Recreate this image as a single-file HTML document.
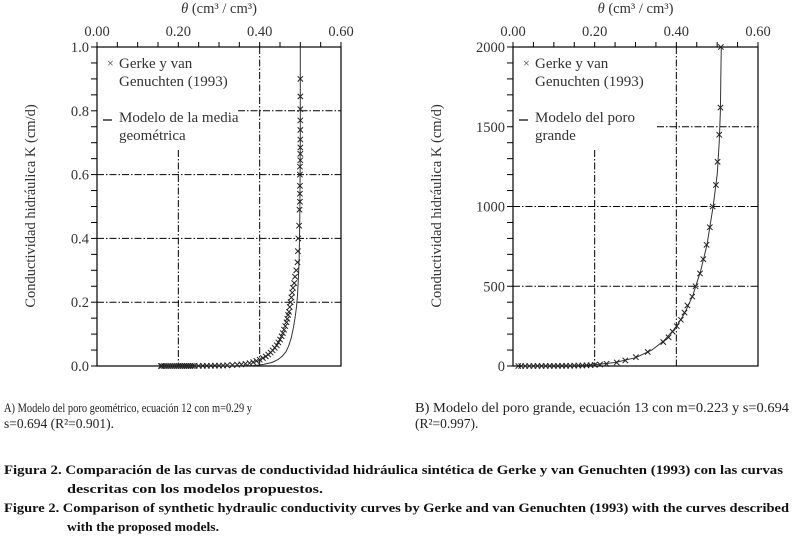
<!DOCTYPE html>
<html><head><meta charset="utf-8"><style>
body{margin:0;background:#fff}
svg{display:block;font-family:"Liberation Serif",serif}
</style></head><body>
<svg id="fig" width="793" height="539" viewBox="0 0 793 539" xmlns="http://www.w3.org/2000/svg">
<g id="chartA"></g>
<g id="chartB"></g>
<g font-size="13.5" fill="#222">
<text x="4" y="412" font-size="12.5" textLength="248" lengthAdjust="spacingAndGlyphs">A) Modelo del poro geométrico, ecuación 12 con m=0.29 y</text>
<text x="4" y="428">s=0.694 (R²=0.901).</text>
<text x="415" y="412" textLength="374" lengthAdjust="spacingAndGlyphs">B) Modelo del poro grande, ecuación 13 con m=0.223 y s=0.694</text>
<text x="415" y="428">(R²=0.997).</text>
</g>
<g font-size="13" font-weight="bold" fill="#111">
<text x="4" y="474" textLength="779" lengthAdjust="spacingAndGlyphs">Figura 2.  Comparación de las curvas de conductividad hidráulica sintética de Gerke y van Genuchten (1993) con las curvas</text>
<text x="67" y="493" textLength="256" lengthAdjust="spacingAndGlyphs">descritas con los modelos propuestos.</text>
<text x="4" y="512" textLength="785" lengthAdjust="spacingAndGlyphs">Figure 2.  Comparison of synthetic hydraulic conductivity curves by Gerke and van Genuchten (1993) with the curves described</text>
<text x="67" y="531" textLength="152" lengthAdjust="spacingAndGlyphs">with the proposed models.</text>
</g>
</svg>
<script>
// ---- shared tick labels ----
const xTicks = ["0.00","0.20","0.40","0.60"];
const yTicksA = ["0.0","0.2","0.4","0.6","0.8","1.0"];
const yTicksB = ["0","500","1000","1500","2000"];
// ---- Chart A data ----
const thetaA = [0.5,0.5,0.5,0.5,0.5,0.5,0.5,0.5,0.5,0.499,0.499,0.499,0.499,0.499,0.498,0.497,0.495,0.494,0.493,0.49,0.487,0.485,0.482,0.48,0.478,0.476,0.474,0.472,0.47,0.468,0.466,0.463,0.46,0.457,0.454,0.45,0.446,0.442,0.437,0.432,0.427,0.421,0.415,0.408,0.40,0.392,0.384,0.375,0.365,0.355,0.345,0.333,0.32,0.31,0.30,0.29,0.28,0.27,0.26,0.25,0.24,0.235,0.23,0.225,0.22,0.215,0.21,0.205,0.20,0.195,0.19,0.185,0.18,0.175,0.17,0.165,0.16,0.157];
const kA = [0.9,0.845,0.805,0.77,0.74,0.71,0.685,0.665,0.645,0.625,0.60,0.565,0.54,0.515,0.49,0.44,0.40,0.36,0.325,0.30,0.28,0.26,0.245,0.23,0.215,0.20,0.185,0.17,0.16,0.148,0.137,0.125,0.114,0.103,0.093,0.083,0.074,0.065,0.057,0.049,0.042,0.036,0.030,0.025,0.020,0.016,0.012,0.009,0.007,0.005,0.004,0.003,0.002,0.0015,0.001,0.001,0.0008,0.0006,0.0005,0.0004,0.0003,0.0003,0.0002,0.0002,0.0002,0.0001,0.0001,0.0001,0.0001,0,0,0,0,0,0,0,0,0];
const modelThetaA = [0.30,0.36,0.39,0.41,0.43,0.445,0.455,0.465,0.472,0.478,0.483,0.487,0.49,0.493,0.495,0.497,0.498,0.499,0.5,0.5];
const modelKA = [0,0.0005,0.002,0.005,0.011,0.02,0.03,0.045,0.065,0.09,0.12,0.15,0.18,0.22,0.27,0.33,0.4,0.5,0.7,1.0];
// ---- Chart B data ----
const thetaB = [0.509,0.508,0.505,0.501,0.497,0.489,0.482,0.474,0.466,0.458,0.447,0.439,0.427,0.42,0.411,0.401,0.391,0.381,0.368,0.33,0.301,0.275,0.254,0.229,0.213,0.2,0.19,0.18,0.17,0.16,0.15,0.14,0.13,0.12,0.11,0.1,0.09,0.08,0.07,0.06,0.05,0.04,0.03,0.02,0.013];
const kB = [2000,1620,1450,1280,1135,1000,870,760,670,580,500,435,380,335,290,250,215,180,150,88,55,35,22,14,9,7,5,4,3,2.5,2,1.5,1,1,0.5,0.5,0.3,0.2,0.1,0.1,0,0,0,0,0];
const modelThetaB = [0.02,0.15,0.2,0.25,0.3,0.34,0.37,0.4,0.42,0.44,0.46,0.475,0.49,0.5,0.505,0.508,0.509,0.51];
const modelKB = [0,2,8,22,52,100,160,245,330,440,600,760,1000,1200,1400,1600,1800,2000];

const NS="http://www.w3.org/2000/svg";
function mk(parent,tag,attrs){const e=document.createElementNS(NS,tag);for(const k in attrs)e.setAttribute(k,attrs[k]);parent.appendChild(e);return e;}

function drawChart(g, o){
  const L=o.left,R=o.right,T=47,B=366;
  const xs=v=>L+(v/0.6)*(R-L);
  const ys=v=>B-(v/o.ymax)*(B-T);
  const dash="7 2 1.5 2";
  o.hgrid.forEach(h=>{
    const l=mk(g,'line',{x1:h.x0!=null?h.x0:L,x2:R,y1:ys(h.v),y2:ys(h.v),stroke:'#000','stroke-width':1,'stroke-dasharray':dash});
    
    
  });
  [[0.2,150],[0.4,T]].forEach(([v,y0])=>{
    const l=mk(g,'line',{x1:xs(v),x2:xs(v),y1:y0,y2:B,stroke:'#000','stroke-width':1,'stroke-dasharray':dash});
    
    
  });
  const box=mk(g,'rect',{x:L,y:T,width:R-L,height:B-T,fill:'none',stroke:'#000','stroke-width':1.2});
  
  
  for(let i=0;i<=12;i++){const x=xs(i*0.05);const t=mk(g,'line',{x1:x,x2:x,y1:T,y2:T-5,stroke:'#000'});
    
    }
  xTicks.forEach(s=>{const t=mk(g,'text',{x:xs(parseFloat(s)),y:36,'text-anchor':'middle','font-size':14.5,fill:'#333'});t.textContent=s;
    
    });
  const nMinor=o.ymax/o.minor;
  for(let i=0;i<=nMinor;i++){const y=ys(i*o.minor);const t=mk(g,'line',{x1:L,x2:L-6,y1:y,y2:y,stroke:'#000'});
    
    }
  o.yLabels.forEach(s=>{const t=mk(g,'text',{x:L-8,y:ys(parseFloat(s))+5,'text-anchor':'end','font-size':14.5,fill:'#333'});t.textContent=s;
    
    });
  const xt=mk(g,'text',{x:(L+R)/2,y:13,'text-anchor':'middle','font-size':14.5,fill:'#333'});
  xt.innerHTML='<tspan font-style="italic">θ</tspan> (cm³ / cm³)';
  
  
  const yt=mk(g,'text',{x:0,y:0,'text-anchor':'middle','font-size':14.5,fill:'#333',transform:`translate(${o.ytx},206) rotate(-90)`});
  yt.textContent='Conductividad hidráulica K (cm/d)';
  
  
  const pts=o.mt.map((t,i)=>xs(t).toFixed(1)+','+ys(o.mk[i]).toFixed(1)).join(' ');
  const pl=mk(g,'polyline',{points:pts,fill:'none',stroke:'#333','stroke-width':1,'stroke-linejoin':'round'});
  
  
  o.dt.forEach((t,i)=>{const x=xs(t),y=ys(o.dk[i]);
    const p=mk(g,'path',{d:`M${x-2.7},${y-2.7}L${x+2.7},${y+2.7}M${x-2.7},${y+2.7}L${x+2.7},${y-2.7}`,stroke:'#222','stroke-width':1});
    
    });
  const lg=mk(g,'g',{'font-size':15,fill:'#333'});
  
  
  const lx=L+14;
  const m=mk(lg,'text',{x:L+10,y:67,'font-size':12}); m.textContent='×';
  
  
  o.leg1.forEach((s,i)=>{const t=mk(lg,'text',{x:lx+8,y:68+i*18});t.textContent=s;
    
    });
  const ll=mk(lg,'line',{x1:L+6,x2:L+15,y1:120,y2:120,stroke:'#000','stroke-width':1.2});
  
  
  o.leg2.forEach((s,i)=>{const t=mk(lg,'text',{x:lx+8,y:122+i*18});t.textContent=s;
    
    });
}

drawChart(document.getElementById('chartA'),{left:97,right:341,ymax:1,minor:0.05,yLabels:yTicksA,ytx:35,
  hgrid:[{v:0.2},{v:0.4},{v:0.6},{v:0.8,x0:238}],
  dt:thetaA,dk:kA,mt:modelThetaA,mk:modelKA,
  leg1:["Gerke y van","Genuchten (1993)"],leg2:["Modelo de la media","geométrica"]});
drawChart(document.getElementById('chartB'),{left:513,right:758,ymax:2000,minor:100,yLabels:yTicksB,ytx:441,
  hgrid:[{v:500},{v:1000},{v:1500,x0:657}],
  dt:thetaB,dk:kB,mt:modelThetaB,mk:modelKB,
  leg1:["Gerke y van","Genuchten (1993)"],leg2:["Modelo del poro","grande"]});
</script>
</body></html>
